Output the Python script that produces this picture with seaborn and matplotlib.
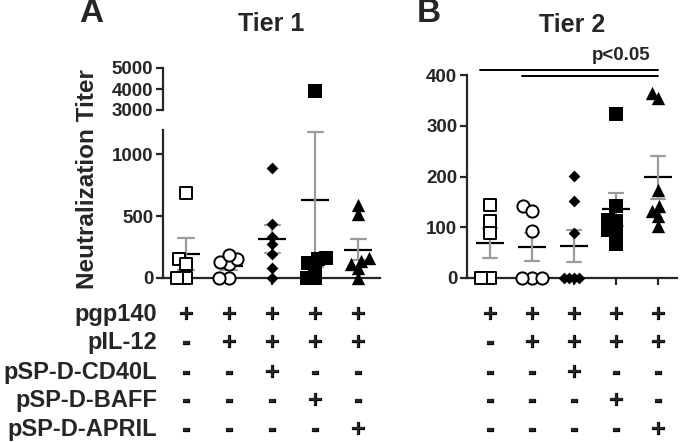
import numpy as np
import pandas as pd
import matplotlib
matplotlib.use("Agg")
import matplotlib.pyplot as plt
import matplotlib.transforms as mtransforms
import matplotlib.patheffects as pe
import seaborn as sns

# groups (same order in both panels)
groups = ["g1", "g2", "g3", "g4", "g5"]

# Tier 1 titers
tier1_g1 = [690, 156, 110, 0, 0]
tier1_g2 = [0, 0, 110, 130, 150, 185]
tier1_g3 = [887, 440, 330, 274, 194, 81, 0]
tier1_g4 = [3900, 160, 150, 120, 90, 0, 0]
tier1_g5 = [590, 520, 160, 140, 110, 80, 0]

# Tier 2 titers
tier2_g1 = [143, 112, 89, 0, 0]
tier2_g2 = [141, 133, 92, 0, 0, 0]
tier2_g3 = [201, 151, 89, 0, 0, 0, 0]
tier2_g4 = [324, 141, 115, 112, 95, 95, 67]
tier2_g5 = [365, 354, 174, 141, 132, 122, 102]

# design table under the plots
row_names = ["pgp140", "pIL-12", "pSP-D-CD40L", "pSP-D-BAFF", "pSP-D-APRIL"]
row_signs = [["+", "+", "+", "+", "+"],
             ["-", "+", "+", "+", "+"],
             ["-", "-", "+", "-", "-"],
             ["-", "-", "-", "+", "-"],
             ["-", "-", "-", "-", "+"]]

# marker look per group
markers = ["s", "o", "D", "s", "^"]
face = ["white", "white", "black", "black", "black"]
msize = [8.2, 8.8, 6.0, 9.6, 9.6]
pack = 0.6   # swarm is laid out with smaller dots, then drawn full size (overlap like the original)


def long_df(lists):
    rows = []
    for g, vals in zip(groups, lists):
        for v in vals:
            rows.append((g, v))
    return pd.DataFrame(rows, columns=["group", "titer"])


df1 = long_df([tier1_g1, tier1_g2, tier1_g3, tier1_g4, tier1_g5])
df2 = long_df([tier2_g1, tier2_g2, tier2_g3, tier2_g4, tier2_g5])

sns.set_style("ticks")
plt.rcParams["font.family"] = ["Liberation Sans", "DejaVu Sans"]
plt.rcParams["font.weight"] = "bold"

W, H = 680, 442
fig = plt.figure(figsize=(W / 100, H / 100), dpi=100)


def box(x0, y0, x1, y1):
    return [x0 / W, 1 - y1 / H, (x1 - x0) / W, (y1 - y0) / H]


axA = fig.add_axes(box(163, 130, 380, 278))
axAt = fig.add_axes(box(163, 68, 380, 110))
axB = fig.add_axes(box(467, 75, 677, 278))

swarm_colls = []


def draw_points(ax, df):
    for i, g in enumerate(groups):
        sub = df[df["group"] == g]
        open_m = face[i] == "white"
        n0 = len(ax.collections)
        sns.swarmplot(data=sub, x="group", y="titer", order=groups, ax=ax,
                      marker=markers[i], size=msize[i] * pack, color=face[i],
                      edgecolor="black", linewidth=1.4 if open_m else 0,
                      warn_thresh=1)
        swarm_colls.extend(ax.collections[n0:])
    for c in ax.collections:
        c.set_clip_on(False)


def draw_mean(ax, df):
    sns.pointplot(data=df, x="group", y="titer", order=groups, ax=ax,
                  errorbar="se", capsize=0.35, linestyle="none", marker="_",
                  markersize=20, markeredgewidth=1.6, color="black",
                  err_kws={"color": "#9b9b9b", "linewidth": 1.6})


def style_ax(ax, ylim, yticks, xlim):
    ax.set_ylim(*ylim)
    ax.set_yticks(yticks)
    ax.set_xlim(*xlim)
    ax.set_xticks(range(len(groups)))
    ax.set_xticklabels([])
    ax.set_xlabel("")
    ax.set_ylabel("")
    sns.despine(ax=ax)
    for s in ["left", "bottom"]:
        ax.spines[s].set_linewidth(1.6)
    ax.tick_params(width=1.6, length=5, labelsize=13.5, pad=2)


# panel A bottom (0-1200)
draw_points(axA, df1[df1["titer"] <= 1200])
draw_mean(axA, df1)
style_ax(axA, (0, 1195), [0, 500, 1000], (-0.535, 4.51))

# panel A top (3000-5000)
high = df1[df1["titer"] > 1200]
sns.stripplot(data=high, x="group", y="titer", order=groups, ax=axAt,
              jitter=False, marker="s", size=9.6, color="black", linewidth=0)
style_ax(axAt, (3000, 5000), [3000, 4000, 5000], (-0.535, 4.51))
axAt.spines["bottom"].set_visible(False)
axAt.tick_params(axis="x", length=0)

# panel B
draw_points(axB, df2)
draw_mean(axB, df2)
style_ax(axB, (0, 400), [0, 100, 200, 300, 400], (-0.55, 4.45))

# significance bars in panel B
sig_from = [-0.25, 0.75]
sig_to = [4.0, 4.0]
sig_y = [410, 398]
for a, b, y in zip(sig_from, sig_to, sig_y):
    axB.plot([a, b], [y, y], color="black", lw=1.4, clip_on=False)
fig.text(621 / W, 1 - 56 / H, "p<0.05", ha="center", va="center", fontsize=13.5)

# titles and panel letters
fig.text(271 / W, 1 - 24 / H, "Tier 1", ha="center", va="center", fontsize=18)
fig.text(572 / W, 1 - 25 / H, "Tier 2", ha="center", va="center", fontsize=18)
fig.text(91 / W, 1 - 14 / H, "A", ha="center", va="center", fontsize=24)
fig.text(429 / W, 1 - 14 / H, "B", ha="center", va="center", fontsize=24)
fig.text(88 / W, 1 - 179 / H, "Neutralization Titer", rotation=90,
         ha="center", va="center", fontsize=17.5)

# table
heavy = [pe.withStroke(linewidth=0.9, foreground="black")]
row_y = [312, 340, 370, 398, 427]
for name, y in zip(row_names, row_y):
    fig.text(157 / W, 1 - y / H, name, ha="right", va="center_baseline",
             fontsize=17)
for ax in [axA, axB]:
    tr = mtransforms.blended_transform_factory(ax.transData, fig.transFigure)
    for signs, y in zip(row_signs, row_y):
        for i, s in enumerate(signs):
            ax.text(i, 1 - y / H, s, transform=tr, ha="center",
                    va="center_baseline", fontsize=17, path_effects=heavy)

# lay the swarms out once, then freeze them and draw the dots full size
fig.canvas.draw()
for c in swarm_colls:
    if "draw" in c.__dict__:
        del c.draw
    c.set_sizes(np.asarray(c.get_sizes()) / pack ** 2)

fig.savefig("out.png", dpi=100)
